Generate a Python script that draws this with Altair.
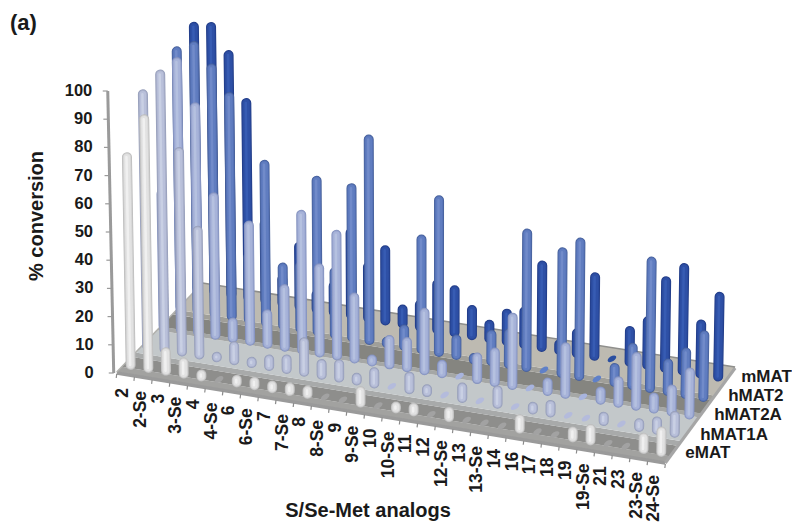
import altair as alt
import pandas as pd

categories = ["2","2-Se","3","3-Se","4","4-Se","6","6-Se","7","7-Se","8","8-Se","9","9-Se","10","10-Se",
              "11","12","12-Se","13","13-Se","14","16","17","18","19","19-Se","21","23","23-Se","24-Se"]
series_names = ["eMAT","hMAT1A","hMAT2A","hMAT2","mMAT"]
eMAT   = [77,91.5,9.6,7,3.8,0,4,4.3,4,4.3,4.3,0,0,7.1,0,3.7,4.3,0,5,0,0,0,6.4,0,0,5.2,7.1,0,0,7.1,10.3]
hMAT1A = [92.5,100.6,74,47,3.2,8,3.5,5.3,6.4,13.5,6.8,7.8,4,7,0,7.5,4,0,6.7,0,7.7,0,4,5.7,0,0,4.6,0,4.3,6,9]
hMAT2A = [50,98,83,52,8.5,44,13.5,23.5,51,33,46,24.7,3.7,11.7,12,23.5,6,0,10.7,13.5,27,0,6,19.6,0,6,10.7,20.3,7,10.9,18]
hMAT2  = [94,97,90,81,25,59,23.5,25,56.5,25,56,74.4,3.5,8.9,42,57,8.5,2.5,12.4,14,50.5,0,46,50.5,0,8,16.3,48,12.8,17.8,25]
mMAT   = [96,97,88,72,30,11.4,24,8,12,32,21,28,8,10.7,19,18,12,7.8,12.8,14.6,32,5,10,31,0,14,18.5,33.8,39.5,20.5,31.4]
all_values = [eMAT, hMAT1A, hMAT2A, hMAT2, mMAT]
y_ticks = [0,10,20,30,40,50,60,70,80,90,100]

# projection of the 3-D plot box (category index, series index, value) -> page position
ROW = [(131,17.73,365,2.9,0),(147.5,17.63,345.7,2.9,-1.5),(164,17.57,326,2.95,-2),
       (181,17.47,307,3.0,-3),(198,17.4,288,2.95,-3.3)]
UNIT = 2.81
CAP = 4.5
A,B,C,D = (117,372),(667,462),(737,367),(203,283)

def floor_pt(U,V):
    fx = A[0]+(B[0]-A[0])*U; fy = A[1]+(B[1]-A[1])*U
    bx = D[0]+(C[0]-D[0])*U; by = D[1]+(C[1]-D[1])*U
    return (fx+(bx-fx)*V, fy+(by-fy)*V)

SHADES = [
    ("#bcbcbc","#d2d2d2","#e2e2e2","#f4f4f4","#a2a2a2"),
    ("#959db9","#a9b0cb","#b9c0da","#cdd3e6","#b4bbdc"),
    ("#8391be","#97a4ce","#a7b3d9","#b9c4e1","#a8b4de"),
    ("#466099","#5672b6","#607dc0","#758ecc","#5f80c8"),
    ("#213b86","#2a4a9c","#2e50a6","#3a5fb6","#2b4fa0"),
]

xs = alt.Scale(domain=[8,792], nice=False, zero=False)
ys = alt.Scale(domain=[522,8], nice=False, zero=False)
X = lambda f: alt.X(f+":Q", scale=xs, axis=None)
Y = lambda f: alt.Y(f+":Q", scale=ys, axis=None)

def strip(V1,V2,color):
    pts = [floor_pt(0,V1),floor_pt(1,V1),floor_pt(1,V2),floor_pt(0,V2)]
    edges = [(pts[k],pts[(k+1)%4]) for k in range(4)]
    rows=[]
    for px in sorted(p[0] for p in pts):
        hits=[]
        for (a,b) in edges:
            lo,hi=min(a[0],b[0]),max(a[0],b[0])
            if lo-1e-9<=px<=hi+1e-9 and hi>lo:
                hits.append(a[1]+(b[1]-a[1])*(px-a[0])/(b[0]-a[0]))
        rows.append({"x":px,"y":min(hits),"y0":max(hits)})
    return alt.Chart(pd.DataFrame(rows)).mark_area(color=color,interpolate="linear").encode(
        x=X("x"),y=Y("y"),y2=alt.Y2("y0"))

def seg(rows,color,width,cap="butt",opacity=1):
    return alt.Chart(pd.DataFrame(rows)).mark_rule(color=color,strokeWidth=width,strokeCap=cap,opacity=opacity).encode(
        x=X("x"),y=Y("y"),x2=alt.X2("x2"),y2=alt.Y2("y2"))

def text(rows,**kw):
    base = dict(font="Liberation Sans",fontWeight="bold",color="#1a1a1a")
    base.update(kw)
    return alt.Chart(pd.DataFrame(rows)).mark_text(**base).encode(x=X("x"),y=Y("y"),text="t:N")

layers=[]
# floor
bands=[(0,.06,"#a2a2a0"),(.06,.17,"#8e8e8c"),(.17,.22,"#a8aaaa"),(.22,.47,"#c3c8ca"),(.47,.51,"#a5a7a6"),
       (.51,.65,"#858580"),(.65,.70,"#a09f99"),(.70,1,"#bdbab1")]
for v1,v2,c in bands:
    layers.append(strip(v1,v2,c))
# walls' edges
a,b,c_,d = A,B,C,D
layers.append(seg([{"x":a[0],"y":a[1]+1,"x2":b[0],"y2":b[1]+1}],"#9a9a9a",3.5))
layers.append(seg([{"x":b[0],"y":b[1]+1,"x2":c_[0],"y2":c_[1]+1}],"#a6a6a6",3))
layers.append(seg([{"x":d[0],"y":d[1],"x2":c_[0],"y2":c_[1]}],"#8f8f8c",1.5))
layers.append(seg([{"x":a[0],"y":a[1],"x2":d[0],"y2":d[1]}],"#b0b0ac",1.5))
# category ticks
tick_rows=[]
for k in range(32):
    p=floor_pt(k/31,0)
    tick_rows.append({"x":p[0],"y":p[1]+2,"x2":p[0]-0.5,"y2":p[1]+6})
layers.append(seg(tick_rows,"#8c8c8c",1.2))
# value axis
ax_top,ax_bot=(108,91),(114,373)
layers.append(seg([{"x":ax_top[0],"y":ax_top[1],"x2":ax_bot[0],"y2":ax_bot[1]}],"#9a9a9a",3))
axis_ticks=[];axis_labels=[]
for t in y_ticks:
    f=t/100
    ax=ax_bot[0]+(ax_top[0]-ax_bot[0])*f; ay=ax_bot[1]+(ax_top[1]-ax_bot[1])*f
    axis_ticks.append({"x":ax-5,"y":ay,"x2":ax,"y2":ay})
    axis_labels.append({"x":92.5+ (1-f)*1.5,"y":ay,"t":str(t)})
layers.append(seg(axis_ticks,"#9a9a9a",1.2))
# bars, back row first
ELLIPSE="M -0.509,0.318 A 0.6,0.33 -32 1 1 0.509,-0.318 A 0.6,0.33 -32 1 1 -0.509,0.318 Z"
for s in range(4,-1,-1):
    x0,dx,y0,dy,bow=ROW[s]
    rows=[];flat=[]
    for i,v in enumerate(all_values[s]):
        t=i/30
        bx=x0+dx*i+bow*4*t*(1-t); by=y0+dy*i
        if v==0:
            flat.append({"x":bx,"y":by})
            continue
        ty=by+4-v*UNIT+CAP
        h=by-ty
        lean=h*(bx-430)/300*0.018
        rows.append({"x":bx,"y":by,"x2":bx+lean,"y2":ty})
    e1,e2,mid,hi,fl=SHADES[s]
    layers.append(alt.Chart(pd.DataFrame(flat)).mark_point(shape=ELLIPSE,filled=True,size=256,color=fl,opacity=1,strokeWidth=0).encode(x=X("x"),y=Y("y")))
    layers.append(seg(rows,e1,10,"round"))
    layers.append(seg(rows,e2,8.5,"round"))
    layers.append(seg(rows,mid,6.5,"round"))
    layers.append(seg([{**r,"x":r["x"]-0.5,"x2":r["x2"]-0.5} for r in rows],hi,2.5,"round",0.8))
# text
layers.append(text(axis_labels,fontSize=16.5,align="right",baseline="middle"))
layers.append(text([{"x":123.5+17.75*i,"y":388+2.9*i,"t":c} for i,c in enumerate(categories)],
                   fontSize=17.5,angle=270,align="right",baseline="middle"))
leg_pos=[(687,453),(702,434.5),(716,415),(730,396),(743,377)]
layers.append(text([{"x":p[0],"y":p[1],"t":n} for p,n in zip(leg_pos,series_names)],fontSize=17,align="left",baseline="middle"))
layers.append(text([{"x":37,"y":216,"t":"% conversion"}],fontSize=20,angle=270,align="center",baseline="middle"))
layers.append(text([{"x":369,"y":511,"t":"S/Se-Met analogs"}],fontSize=20,align="center",baseline="middle"))
layers.append(text([{"x":10,"y":23,"t":"(a)"}],fontSize=22,align="left",baseline="middle"))

chart=alt.layer(*layers).properties(width=784,height=514,padding=0,
      autosize=alt.AutoSizeParams(type="fit",contains="padding")).configure_view(stroke=None)
chart.save("out.html",embed_options={"renderer":"svg","actions":False})
